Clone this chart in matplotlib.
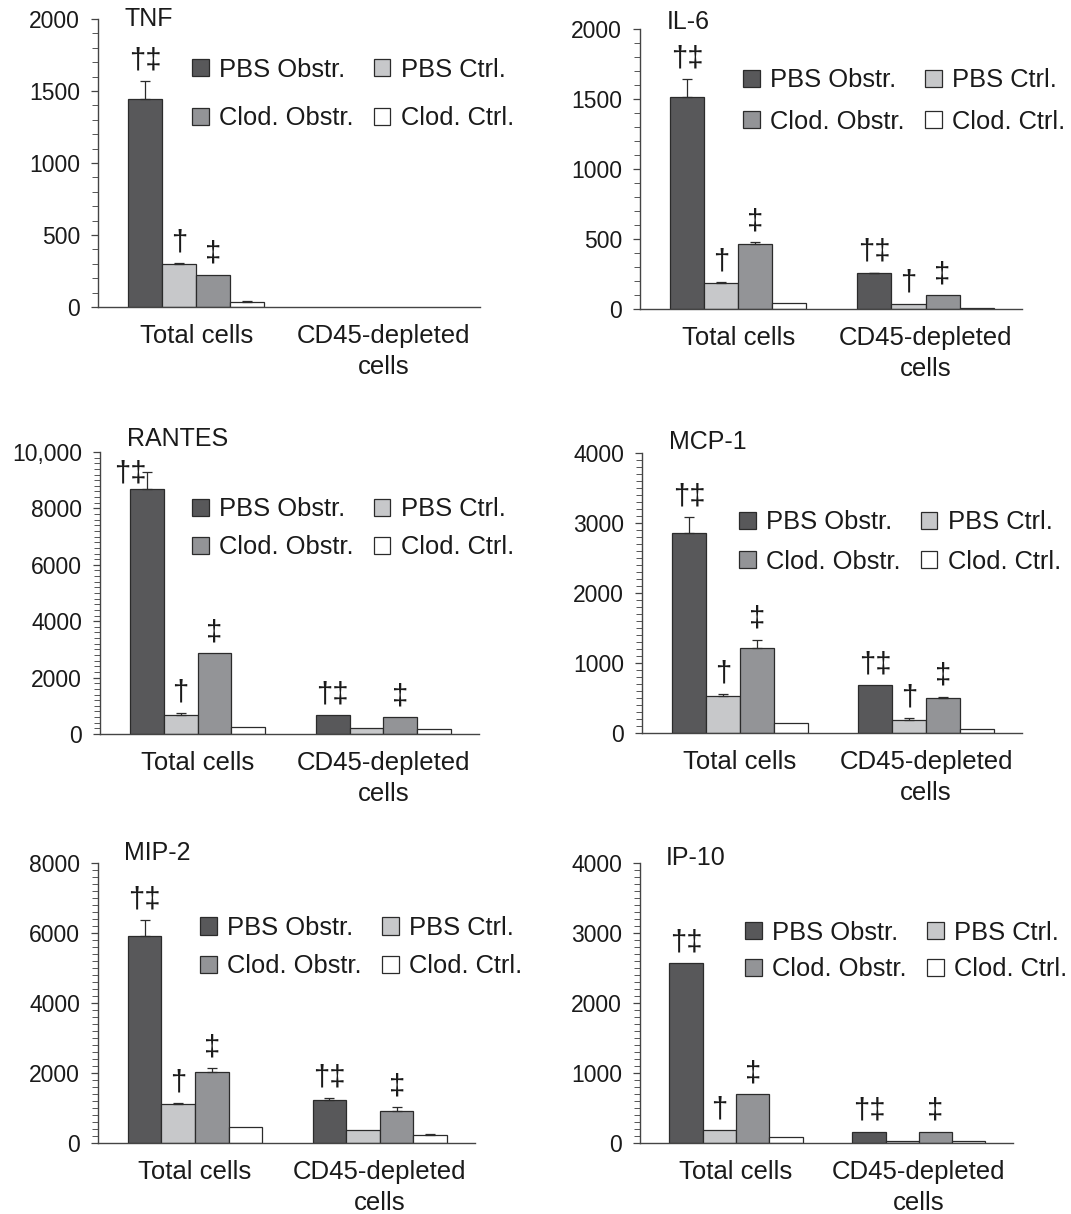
import numpy as np
import matplotlib.pyplot as plt
from matplotlib.ticker import MultipleLocator
from matplotlib.patches import Patch

plt.rcParams['font.family'] = ['Liberation Sans', 'DejaVu Sans']

# series / groups
series = ['PBS Obstr.', 'PBS Ctrl.', 'Clod. Obstr.', 'Clod. Ctrl.']
groups = ['Total cells', 'CD45-depleted\ncells']
colors = ['#58585a', '#c7c8ca', '#939497', '#ffffff']

# values: [total cells, CD45-depleted cells], each in series order
tnf_vals = [[1447, 299, 225, 35], [np.nan, np.nan, np.nan, np.nan]]
tnf_err = [[120, 5, 0, 7], [0, 0, 0, 0]]
tnf_marks = [['†‡', '†', '‡', ''], ['', '', '', '']]

il6_vals = [[1511, 189, 465, 43], [255, 38, 100, 5]]
il6_err = [[131, 4, 12, 0], [5, 0, 0, 0]]
il6_marks = [['†‡', '†', '‡', ''], ['†‡', '†', '‡', '']]

rantes_vals = [[8680, 673, 2857, 236], [673, 200, 590, 165]]
rantes_err = [[612, 59, 0, 0], [0, 0, 0, 0]]
rantes_marks = [['†‡', '†', '‡', ''], ['†‡', '', '‡', '']]

mcp1_vals = [[2857, 533, 1210, 143], [686, 190, 495, 62]]
mcp1_err = [[229, 19, 123, 0], [0, 24, 24, 0]]
mcp1_marks = [['†‡', '†', '‡', ''], ['†‡', '†', '‡', '']]

mip2_vals = [[5905, 1124, 2029, 457], [1238, 381, 924, 219]]
mip2_err = [[457, 10, 114, 0], [38, 0, 95, 29]]
mip2_marks = [['†‡', '†', '‡', ''], ['†‡', '', '‡', '']]

ip10_vals = [[2571, 181, 695, 86], [162, 29, 162, 29]]
ip10_err = [[0, 0, 0, 0], [0, 0, 0, 0]]
ip10_marks = [['†‡', '†', '‡', ''], ['†‡', '', '‡', '']]

tnf_ticks = [0, 500, 1000, 1500, 2000]
il6_ticks = [0, 500, 1000, 1500, 2000]
rantes_ticks = [0, 2000, 4000, 6000, 8000, 10000]
rantes_ticklabels = ['0', '2000', '4000', '6000', '8000', '10,000']
mcp1_ticks = [0, 1000, 2000, 3000, 4000]
mip2_ticks = [0, 2000, 4000, 6000, 8000]
ip10_ticks = [0, 1000, 2000, 3000, 4000]

W, H = 1071, 1214
fig = plt.figure(figsize=(W / 100, H / 100), dpi=100)

# panel layout: (title, vals, err, marks, ticks, ticklabels, minor,
#  axes box in px (l, r, t, b), title y, legend anchor, legend spacing)
panels = [
    ('TNF', tnf_vals, tnf_err, tnf_marks, tnf_ticks, None, 100,
     (98, 480, 19, 307), 1.0, (0.246, 0.74), 0.95),
    ('IL-6', il6_vals, il6_err, il6_marks, il6_ticks, None, 100,
     (640, 1022, 29, 309), 1.025, (0.27, 0.743), 0.7),
    ('RANTES', rantes_vals, rantes_err, rantes_marks, rantes_ticks,
     rantes_ticklabels, 200, (100, 479, 452, 734), 1.046, (0.243, 0.73), 0.55),
    ('MCP-1', mcp1_vals, mcp1_err, mcp1_marks, mcp1_ticks, None, 100,
     (642, 1022, 453, 733), 1.039, (0.255, 0.682), 0.6),
    ('MIP-2', mip2_vals, mip2_err, mip2_marks, mip2_ticks, None, 200,
     (98, 475, 863, 1143), 1.036, (0.271, 0.70), 0.55),
    ('IP-10', ip10_vals, ip10_err, ip10_marks, ip10_ticks, None, 100,
     (640, 1013, 863, 1143), 1.018, (0.282, 0.686), 0.5),
]

width = 0.182
x = np.arange(len(groups))
offsets = (np.arange(len(series)) - 1.5) * width

for (title, vals, err, marks, ticks, ticklabels, minor, box,
     ty, leg_anchor, leg_sp) in panels:
    l, r, t, b = box
    ax = fig.add_axes([l / W, 1 - b / H, (r - l) / W, (b - t) / H])
    vals = np.array(vals, dtype=float)
    err = np.array(err, dtype=float)
    for j in range(len(series)):
        xs = x + offsets[j]
        ax.bar(xs, vals[:, j], width, color=colors[j], edgecolor='#2b2b2b',
               linewidth=0.9, zorder=2)
        for i in range(len(groups)):
            if np.isnan(vals[i, j]):
                continue
            if err[i, j] > 0:
                ax.errorbar(xs[i], vals[i, j], yerr=[[0], [err[i, j]]],
                            fmt='none', ecolor='#2b2b2b', elinewidth=0.9,
                            capsize=3.5, capthick=0.9, zorder=3)
            if marks[i][j]:
                dx, dy = 0, 5
                if title == 'RANTES' and i == 0 and j == 0:
                    dx, dy = -12, -11
                ax.annotate(marks[i][j], xy=(xs[i], vals[i, j] + err[i, j]),
                            xytext=(dx, dy), textcoords='offset points',
                            ha='center', va='bottom', fontsize=21,
                            color='#1a1a1a')
    ax.set_xlim(-0.525, 1.515)
    ax.set_ylim(0, ticks[-1])
    ax.set_yticks(ticks)
    if ticklabels:
        ax.set_yticklabels(ticklabels)
    ax.yaxis.set_minor_locator(MultipleLocator(minor))
    ax.set_xticks(x)
    ax.set_xticklabels(groups, fontsize=18.5, color='#1a1a1a', linespacing=1.4)
    ax.tick_params(axis='x', length=0, pad=12)
    ax.tick_params(axis='y', which='major', length=5, width=0.9, pad=8,
                   labelsize=16.5, colors='#444444', labelcolor='#1a1a1a')
    ax.tick_params(axis='y', which='minor', length=4, width=0.7,
                   colors='#555555')
    for s in ['top', 'right']:
        ax.spines[s].set_visible(False)
    for s in ['left', 'bottom']:
        ax.spines[s].set_color('#444444')
        ax.spines[s].set_linewidth(1.0)
    ax.text(0.07, ty, title, transform=ax.transAxes, fontsize=18,
            ha='left', va='center', color='#1a1a1a')

    handles = [Patch(facecolor=colors[k], edgecolor='#2b2b2b', linewidth=0.9,
                     label=series[k]) for k in [0, 2, 1, 3]]
    ax.legend(handles=handles, ncol=2, loc='center left',
              bbox_to_anchor=leg_anchor, frameon=False, fontsize=18.4,
              borderpad=0, borderaxespad=0, handlelength=0.65,
              handleheight=0.65, handletextpad=0.4, columnspacing=0.8,
              labelspacing=leg_sp, labelcolor='#1a1a1a')

fig.savefig('out.png', dpi=100)
